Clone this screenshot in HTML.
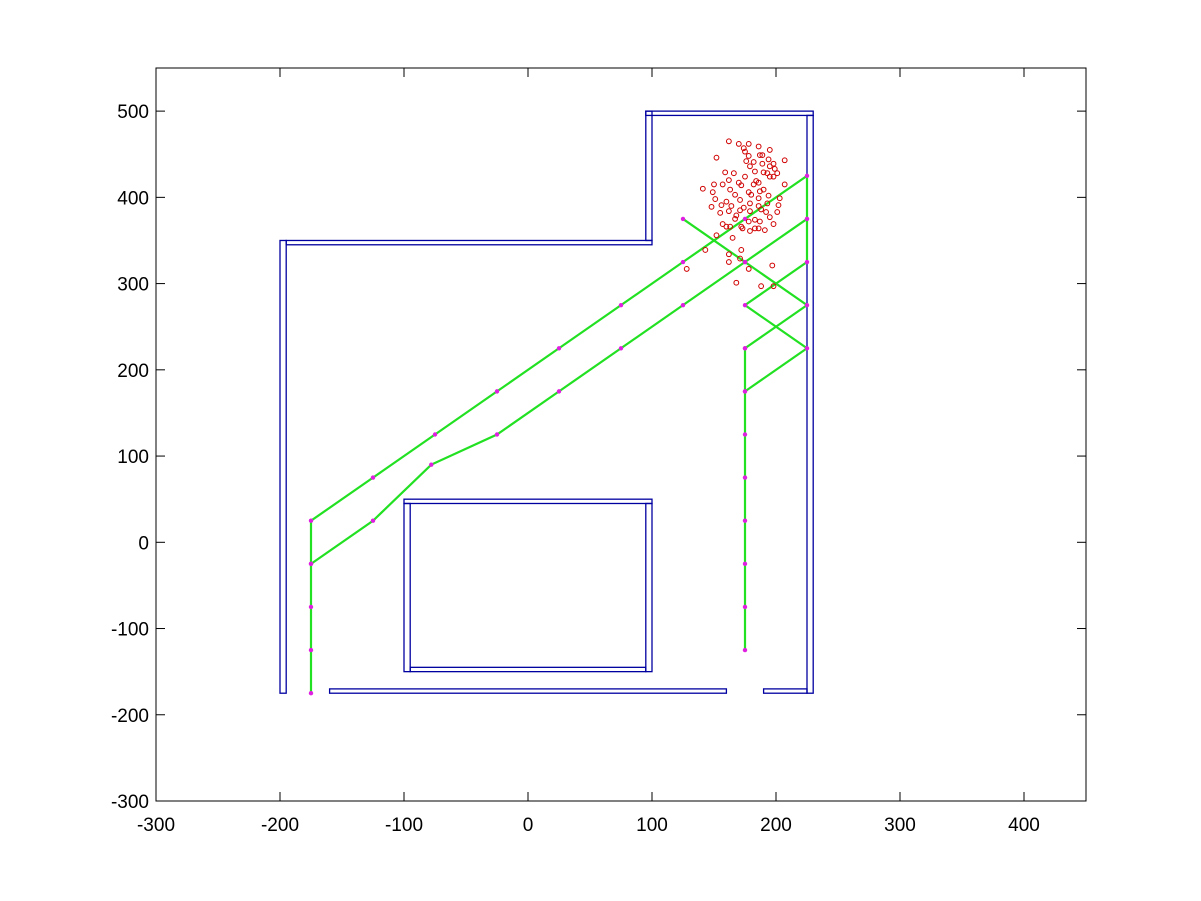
<!DOCTYPE html>
<html><head><meta charset="utf-8"><style>
html,body{margin:0;padding:0;background:#fff;}
svg{display:block;}
text{font-family:"Liberation Sans",Arial,sans-serif;font-size:19px;fill:#000;}
</style></head><body>
<svg id="chart" width="1201" height="901" viewBox="0 0 1201 901" xmlns="http://www.w3.org/2000/svg">
<rect x="0" y="0" width="1201" height="901" fill="#fff"/>
<g id="walls"></g>
<g id="paths"></g>
<g id="markers"></g>
<g id="scatter"></g>
<g id="axes"></g>
</svg>
<script>
const xTicks = [-300,-200,-100,0,100,200,300,400];
const yTicks = [-300,-200,-100,0,100,200,300,400,500];
// walls: [x0,y0,x1,y1]
const walls = [
 [-200,-175,-195,350],[-195,345,100,350],[95,350,100,500],[95,495,230,500],
 [225,-175,230,495],[-160,-175,160,-170],[190,-175,225,-170],
 [-100,45,100,50],[-100,-150,-95,45],[95,-150,100,45],[-95,-150,95,-145]
];
const path1X = [-175,-175,-175,-175,-175,-125,-75,-25,25,75,125,175,225,225,225,175,225,175];
const path1Y = [-175,-125,-75,-25,25,75,125,175,225,275,325,375,425,375,325,275,225,175];
const path2X = [-175,-125,-78,-25,25,75,125,175,225];
const path2Y = [-25,25,90,125,175,225,275,325,375];
const path3X = [125,175,225,175];
const path3Y = [375,325,275,225];
const path4X = [175,175,175,175,175,175,175,175];
const path4Y = [225,175,125,75,25,-25,-75,-125];
const scatterX = [162,170,178,186,174,195,175,152,178,187,189,194,207,176,182,189,198,195,179,199,159,166,183,190,193,201,175,195,198,184,186,182,170,162,157,150,172,207,141,163,190,149,178,167,180,187,194,151,171,160,186,203,179,193,148,156,164,174,186,202,188,179,171,162,192,155,168,195,201,183,167,178,187,198,157,160,163,173,172,183,191,179,186,152,165,143,172,162,171,162,178,197,168,188,198,128];
const scatterY = [465,462,462,459,457,455,453,446,448,449,449,444,443,442,441,439,439,436,436,433,429,428,430,429,428,428,424,424,424,419,417,415,417,420,415,415,414,415,410,409,409,406,406,403,403,407,402,398,397,395,399,399,393,393,389,391,390,388,390,391,386,384,385,384,383,382,379,377,383,374,375,372,372,369,369,366,366,364,366,364,362,361,364,356,353,339,339,334,329,325,317,321,301,297,297,317];

const L=156,R=1086,T=68,B=801;
const X0=-300,X1=450,Y0=-300,Y1=550;
const sx=v=>L+(v-X0)/(X1-X0)*(R-L);
const sy=v=>B-(v-Y0)/(Y1-Y0)*(B-T);
const NS='http://www.w3.org/2000/svg';
function mk(tag,parent){const e=document.createElementNS(NS,tag);document.getElementById(parent).appendChild(e);return e;}

walls.forEach(w=>{
 const r=mk('rect','walls');
 
 
 const x=sx(Math.min(w[0],w[2])),y=sy(Math.max(w[1],w[3]));
 r.setAttribute('x',x);r.setAttribute('y',y);
 r.setAttribute('width',Math.abs(sx(w[2])-sx(w[0])));
 r.setAttribute('height',Math.abs(sy(w[3])-sy(w[1])));
 r.setAttribute('fill','none');r.setAttribute('stroke','#0000a0');r.setAttribute('stroke-width','1.3');
});

function drawPath(xs,ys,name){
 const p=mk('polyline','paths');
 
 
 p.setAttribute('points',xs.map((x,i)=>sx(x)+','+sy(ys[i])).join(' '));
 p.setAttribute('fill','none');p.setAttribute('stroke','#22e022');p.setAttribute('stroke-width','2.2');
 xs.forEach((x,i)=>{
  const m=mk('circle','markers');
  
  
  m.setAttribute('cx',sx(x));m.setAttribute('cy',sy(ys[i]));m.setAttribute('r','2.2');
  m.setAttribute('fill','#e020e0');
 });
}
drawPath(path1X,path1Y,'trajectory-1');
drawPath(path2X,path2Y,'trajectory-2');
drawPath(path3X,path3Y,'trajectory-3');
drawPath(path4X,path4Y,'trajectory-4');

scatterX.forEach((x,i)=>{
 const c=mk('circle','scatter');
 
 
 c.setAttribute('cx',sx(x));c.setAttribute('cy',sy(scatterY[i]));c.setAttribute('r','2.4');
 c.setAttribute('fill','none');c.setAttribute('stroke','#d00000');c.setAttribute('stroke-width','1');
});

const box=mk('rect','axes');


box.setAttribute('x',L);box.setAttribute('y',T);box.setAttribute('width',R-L);box.setAttribute('height',B-T);
box.setAttribute('fill','none');box.setAttribute('stroke','#000');box.setAttribute('stroke-width','1');
function line(x1,y1,x2,y2,name){const l=mk('line','axes');
 
 
 l.setAttribute('x1',x1);l.setAttribute('y1',y1);l.setAttribute('x2',x2);l.setAttribute('y2',y2);l.setAttribute('stroke','#000');l.setAttribute('stroke-width','1');}
xTicks.forEach(v=>{
 const x=sx(v);
 line(x,B,x,B-9,'x-tick');line(x,T,x,T+9,'x-tick');
 const t=mk('text','axes');
 
 
 t.setAttribute('x',x);t.setAttribute('y',B+30);t.setAttribute('text-anchor','middle');t.textContent=v;
});
yTicks.forEach(v=>{
 const y=sy(v);
 line(L,y,L+9,y,'y-tick');line(R,y,R-9,y,'y-tick');
 const t=mk('text','axes');
 
 
 t.setAttribute('x',L-7);t.setAttribute('y',y+7);t.setAttribute('text-anchor','end');t.textContent=v;
});
</script>
</body></html>
